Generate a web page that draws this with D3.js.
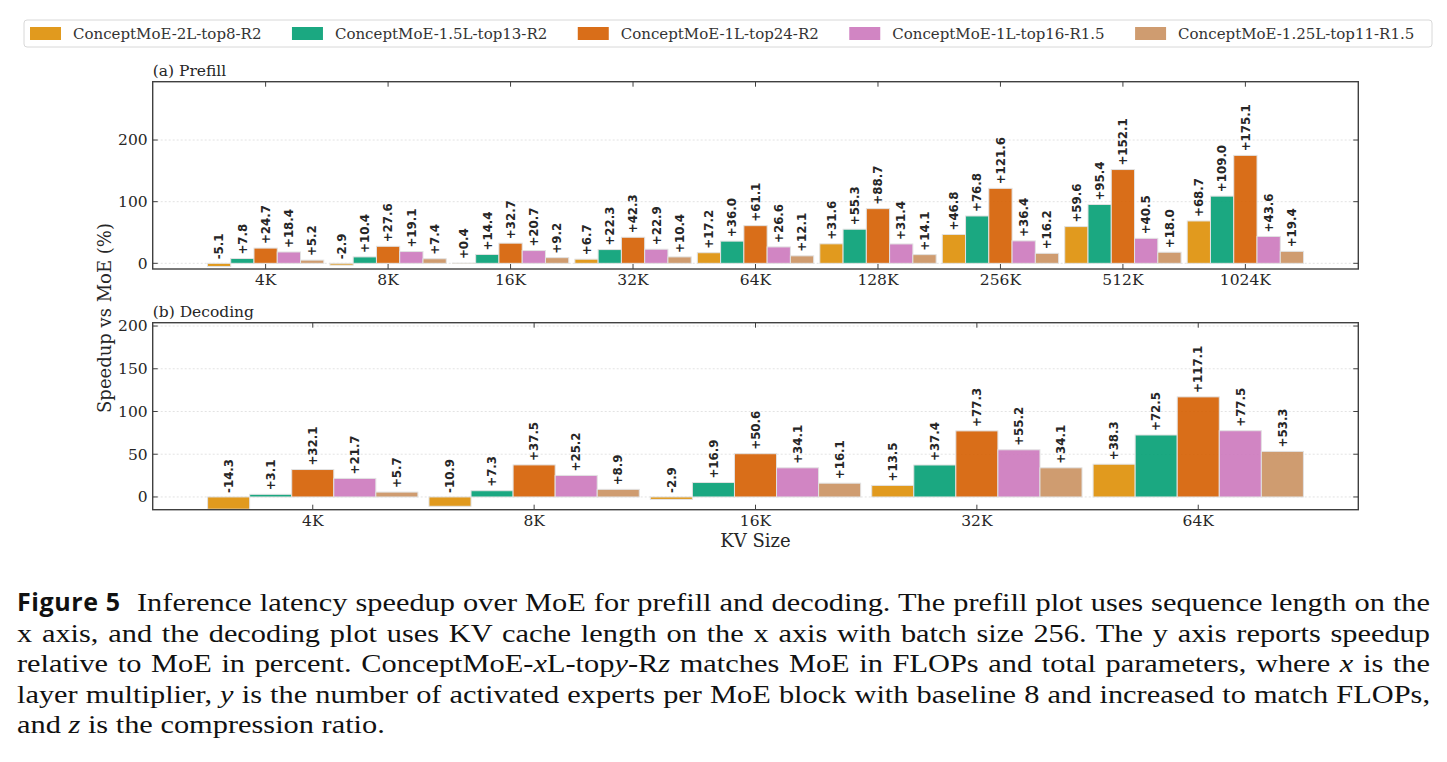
<!DOCTYPE html>
<html>
<head>
<meta charset="utf-8">
<script src="https://cdn.jsdelivr.net/npm/d3@7"></script>
<style>
    body { margin: 0; background: #fff; }
    svg { display: block; }
</style>
</head>
<body>
<svg id="chart" width="1447" height="762"></svg>
<script>
// series names + colours (seaborn colorblind)
var seriesNames = ['ConceptMoE-2L-top8-R2', 'ConceptMoE-1.5L-top13-R2', 'ConceptMoE-1L-top24-R2',
                   'ConceptMoE-1L-top16-R1.5', 'ConceptMoE-1.25L-top11-R1.5'];
var seriesColors = ['#de8f05', '#029e73', '#d55e00', '#cc78bc', '#ca9161'];

// (a) prefill, one array per series
var prefillLabels = ['4K', '8K', '16K', '32K', '64K', '128K', '256K', '512K', '1024K'];
var prefill2L    = [-5.1, -2.9, 0.4, 6.7, 17.2, 31.6, 46.8, 59.6, 68.7];
var prefill15L   = [7.8, 10.4, 14.4, 22.3, 36.0, 55.3, 76.8, 95.4, 109.0];
var prefill1L24  = [24.7, 27.6, 32.7, 42.3, 61.1, 88.7, 121.6, 152.1, 175.1];
var prefill1L16  = [18.4, 19.1, 20.7, 22.9, 26.6, 31.4, 36.4, 40.5, 43.6];
var prefill125L  = [5.2, 7.4, 9.2, 10.4, 12.1, 14.1, 16.2, 18.0, 19.4];
var prefillTicks = [0, 100, 200];

// (b) decoding
var decodeLabels = ['4K', '8K', '16K', '32K', '64K'];
var decode2L     = [-14.3, -10.9, -2.9, 13.5, 38.3];
var decode15L    = [3.1, 7.3, 16.9, 37.4, 72.5];
var decode1L24   = [32.1, 37.5, 50.6, 77.3, 117.1];
var decode1L16   = [21.7, 25.2, 34.1, 55.2, 77.5];
var decode125L   = [5.7, 8.9, 16.1, 34.1, 53.3];
var decodeTicks  = [0, 50, 100, 150, 200];

var svg = d3.select('#chart'),
    serif = "'DejaVu Serif', serif",
    frameColor = '#404040',
    barWidth = 0.19,
    left = 152.7,
    right = 1358.3;

var panels = [
    {
        title: '(a) Prefill', labels: prefillLabels, ticks: prefillTicks,
        values: [prefill2L, prefill15L, prefill1L24, prefill1L16, prefill125L],
        xDomain: [-0.922, 8.922], yDomain: [-9.2, 294.6], top: 81.7, bottom: 269
    },
    {
        title: '(b) Decoding', labels: decodeLabels, ticks: decodeTicks,
        values: [decode2L, decode15L, decode1L24, decode1L16, decode125L],
        xDomain: [-0.723, 4.723], yDomain: [-14.9, 203.9], top: 322.7, bottom: 509.7
    }
];

panels.forEach(function(p) {
    var x = d3.scaleLinear().domain(p.xDomain).range([left, right]),
        y = d3.scaleLinear().domain(p.yDomain).range([p.bottom, p.top]);

    var g = svg.append('g');

    // dotted grid
    g.selectAll('line.grid')
        .data(p.ticks)
        .enter()
        .append('line')
        .attr('x1', left).attr('x2', right)
        .attr('y1', function(d) { return y(d); })
        .attr('y2', function(d) { return y(d); })
        .attr('stroke', '#dcdcdc')
        .attr('stroke-width', 0.8)
        .attr('stroke-dasharray', '2,2');

    // flatten bars
    var bars = [];
    p.values.forEach(function(arr, s) {
        arr.forEach(function(v, i) {
            bars.push({ s: s, i: i, v: v, cx: i + (s - 2) * barWidth });
        });
    });

    g.selectAll('rect.bar')
        .data(bars)
        .enter()
        .append('rect')
        .attr('x', function(d) { return x(d.cx - barWidth / 2); })
        .attr('width', x(barWidth) - x(0))
        .attr('y', function(d) { return y(Math.max(d.v, 0)); })
        .attr('height', function(d) { return Math.abs(y(d.v) - y(0)); })
        .attr('fill', function(d) { return seriesColors[d.s]; })
        .attr('fill-opacity', 0.9)
        .attr('stroke', '#e2e2e2')
        .attr('stroke-width', 1);

    // value labels, rotated
    g.selectAll('text.val')
        .data(bars)
        .enter()
        .append('text')
        .attr('transform', function(d) {
            return 'translate(' + x(d.cx) + ',' + (y(Math.max(d.v, 0)) - 4) + ') rotate(-90)';
        })
        .attr('dy', '0.36em')
        .attr('font-family', "'DejaVu Sans', sans-serif")
        .attr('font-weight', 'bold')
        .attr('font-size', 11.8)
        .attr('fill', '#262626')
        .text(function(d) { return (d.v >= 0 ? '+' : '') + d.v.toFixed(1); });

    // frame
    g.append('rect')
        .attr('x', left).attr('y', p.top)
        .attr('width', right - left).attr('height', p.bottom - p.top)
        .attr('fill', 'none')
        .attr('stroke', frameColor)
        .attr('stroke-width', 1.4);

    // inward ticks on all four sides
    var tl = 5;
    p.labels.forEach(function(lab, i) {
        g.append('line').attr('x1', x(i)).attr('x2', x(i)).attr('y1', p.bottom).attr('y2', p.bottom - tl)
            .attr('stroke', frameColor);
        g.append('line').attr('x1', x(i)).attr('x2', x(i)).attr('y1', p.top).attr('y2', p.top + tl)
            .attr('stroke', frameColor);
    });
    p.ticks.forEach(function(t) {
        g.append('line').attr('x1', left).attr('x2', left + tl).attr('y1', y(t)).attr('y2', y(t))
            .attr('stroke', frameColor);
        g.append('line').attr('x1', right).attr('x2', right - tl).attr('y1', y(t)).attr('y2', y(t))
            .attr('stroke', frameColor);
    });

    g.selectAll('text.xt')
        .data(p.labels)
        .enter()
        .append('text')
        .attr('x', function(d, i) { return x(i); })
        .attr('y', p.bottom + 16)
        .attr('text-anchor', 'middle')
        .attr('font-family', serif)
        .attr('font-size', 15.5)
        .attr('fill', '#262626')
        .text(function(d) { return d; });

    g.selectAll('text.yt')
        .data(p.ticks)
        .enter()
        .append('text')
        .attr('x', left - 5)
        .attr('y', function(d) { return y(d); })
        .attr('dy', '0.35em')
        .attr('text-anchor', 'end')
        .attr('font-family', serif)
        .attr('font-size', 15.5)
        .attr('fill', '#262626')
        .text(function(d) { return d; });

    g.append('text')
        .attr('x', left)
        .attr('y', p.top - 6)
        .attr('font-family', serif)
        .attr('font-size', 15.5)
        .attr('fill', '#262626')
        .text(p.title);
});

// axis titles
svg.append('text')
    .attr('transform', 'translate(111,318) rotate(-90)')
    .attr('text-anchor', 'middle')
    .attr('font-family', serif)
    .attr('font-size', 18)
    .attr('fill', '#262626')
    .text('Speedup vs MoE (%)');

svg.append('text')
    .attr('x', (left + right) / 2)
    .attr('y', 547)
    .attr('text-anchor', 'middle')
    .attr('font-family', serif)
    .attr('font-size', 18)
    .attr('fill', '#262626')
    .text('KV Size');

// legend, laid out left to right
var legend = svg.append('g'),
    lx = 30;
legend.append('rect')
    .attr('x', 24).attr('y', 20).attr('width', 1408).attr('height', 27)
    .attr('rx', 3)
    .attr('fill', '#fff')
    .attr('stroke', '#d8d8d8')
    .attr('stroke-width', 1);
seriesNames.forEach(function(name, s) {
    legend.append('rect')
        .attr('x', lx).attr('y', 27).attr('width', 31).attr('height', 13)
        .attr('fill', seriesColors[s])
        .attr('fill-opacity', 0.9);
    var t = legend.append('text')
        .attr('x', lx + 43)
        .attr('y', 38.5)
        .attr('font-family', serif)
        .attr('font-size', 15)
        .attr('fill', '#333')
        .text(name);
    lx += 43 + t.node().getComputedTextLength() + 30.5;
});

// caption: serif body stretched a bit to get the wide TeX look, lines justified
var capRight = 1430,
    capSize = 25,
    capLines = [
        [['Inference latency speedup over MoE for prefill and decoding. The prefill plot uses sequence length on the', '']],
        [['x axis, and the decoding plot uses KV cache length on the x axis with batch size 256. The y axis reports speedup', '']],
        [['relative to MoE in percent. ConceptMoE-', ''], ['x', 'i'], ['L-top', ''], ['y', 'i'], ['-R', ''], ['z', 'i'],
         [' matches MoE in FLOPs and total parameters, where ', ''], ['x', 'i'], [' is the', '']],
        [['layer multiplier, ', ''], ['y', 'i'], [' is the number of activated experts per MoE block with baseline 8 and increased to match FLOPs,', '']],
        [['and ', ''], ['z', 'i'], [' is the compression ratio.', '']]
    ],
    capStart = [137, 17, 17, 17, 17],
    lastLineWidth = 368;

svg.append('text')
    .attr('x', 17)
    .attr('y', 611)
    .attr('font-family', "'Open Sans', sans-serif")
    .attr('font-weight', 'bold')
    .attr('font-size', 25)
    .attr('letter-spacing', 0.6)
    .attr('fill', '#111')
    .text('Figure 5');

var capTexts = capLines.map(function(parts, li) {
    var t = svg.append('text')
        .attr('font-family', "'Liberation Serif', serif")
        .attr('font-size', capSize)
        .attr('fill', '#111');
    parts.forEach(function(pt) {
        var ts = t.append('tspan').text(pt[0]);
        if (pt[1] === 'i') ts.attr('font-style', 'italic');
    });
    return t;
});

var sx = lastLineWidth / capTexts[capTexts.length - 1].node().getComputedTextLength();

capTexts.forEach(function(t, li) {
    t.attr('transform', 'translate(' + capStart[li] + ',' + (611 + li * 30.5) + ') scale(' + sx + ',1)');
    if (li < capTexts.length - 1) {
        var str = capLines[li].map(function(pt) { return pt[0]; }).join(''),
            spaces = str.split(' ').length - 1,
            w = t.node().getComputedTextLength(),
            target = (capRight - capStart[li]) / sx;
        t.attr('word-spacing', (target - w) / spaces);
    }
});
</script>
</body>
</html>
